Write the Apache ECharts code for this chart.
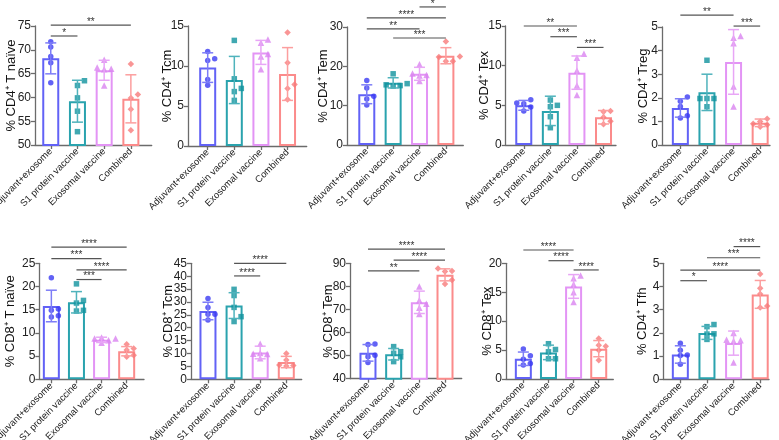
<!DOCTYPE html>
<html>
<head>
<meta charset="utf-8">
<script src="https://cdn.jsdelivr.net/npm/echarts@6/dist/echarts.min.js"></script>
<style>
html,body{margin:0;padding:0;background:#fff}
#main{width:779px;height:440px}
</style>
</head>
<body>
<div id="main"></div>
<script>
var groups=['Adjuvant+exosome','S1 protein vaccine','Exosomal vaccine','Combined'];
var titles=['% CD4\u207A T naïve','% CD4\u207A Tcm','% CD4\u207A Tem','% CD4\u207A Tex','% CD4\u207A Treg',
            '% CD8\u207A T naïve','% CD8\u207A Tcm','% CD8\u207A Tem','% CD8\u207A Tex','% CD4\u207A Tfh'];
var yMin=[50,0,0,0,0, 0,0,40,0,0];
var yMax=[75,15,30,15,5, 25,45,90,20,5];
var yStep=[5,5,10,5,1, 5,5,10,5,1];

var means=[
  [68.2,59.2,65.7,59.7],
  [9.8,8.25,11.7,9.0],
  [12.9,15.8,18.1,22.7],
  [5.0,4.3,9.12,3.5],
  [1.57,2.23,3.52,0.94],
  [15.8,16.6,8.5,6.05],
  [26.5,28.6,10.4,6.7],
  [51.2,50.6,73.1,85.0],
  [3.5,4.6,16.0,5.25],
  [1.07,2.0,1.56,3.66]
];
var sds=[
  [3.25,4.4,2.1,5.05],
  [1.85,2.95,1.5,3.3],
  [2.4,1.3,1.65,2.05],
  [0.62,1.85,2.1,0.85],
  [0.39,0.77,1.37,0.16],
  [3.4,2.3,0.57,1.0],
  [3.4,5.0,2.45,2.2],
  [3.6,2.5,4.85,2.6],
  [1.16,1.25,2.05,1.4],
  [0.375,0.28,0.52,0.6]
];
var points=[
  [[71.7,70.6,68.6,67.3,63.1],[63.5,62.5,59.9,57.1,52.8],[67.9,66.3,66.0,62.5,65.9],[67.0,60.6,59.9,57.5,53.1]],
  [[10.9,11.8,10.7,8.3,7.6],[13.2,8.4,6.8,7.2,5.7],[11.5,13.3,12.9,11.2,9.6],[14.2,10.4,7.7,7.2,5.8]],
  [[16.4,14.5,12.4,11.7,10.2],[18.1,15.1,15.6,15.3,15.0],[20.5,18.2,17.8,16.3,17.7],[26.3,22.5,22.4,21.3,21.3]],
  [[5.3,5.7,5.2,4.8,4.3],[5.0,5.67,4.83,3.57,2.18],[11.5,11.0,9.4,7.5,6.3],[4.2,4.3,3.5,3.0,2.6]],
  [[2.03,1.14,1.85,1.63,1.24],[3.59,1.97,1.97,1.97,1.62],[4.54,4.62,4.31,2.48,1.63],[1.0,1.11,0.9,0.86,0.77]],
  [[21.86,15.14,14.86,13.43,13.71],[20.57,17.0,16.43,14.71,14.86],[8.79,9.0,8.79,7.86,8.43],[7.57,6.29,6.64,5.21,4.86]],
  [[31.3,27.9,25.2,25.2,23.0],[34.9,32.5,27.9,24.3,22.4],[13.8,9.9,10.2,9.8,8.2],[10.0,7.5,5.5,5.4,5.2]],
  [[55.0,54.8,50.2,49.5,47.0],[53.9,51.0,49.5,47.4,51.7],[80.0,74.0,72.5,70.7,68.0],[87.7,86.7,86.4,82.8,81.0]],
  [[5.2,4.0,3.4,2.7,2.4],[6.1,5.1,4.7,3.5,3.5],[17.9,17.4,16.4,15.0,13.3],[6.99,5.66,5.84,4.97,3.24]],
  [[1.55,1.05,1.03,1.25,0.65],[2.36,2.27,1.96,1.72,1.95],[2.0,1.7,1.68,1.65,0.72],[4.54,3.92,3.68,3.1,3.16]]
];
// significance brackets: [from group, to group, level, stars]
var sig=[
  [[0,1,72.9,'*'],[0,3,75.2,'**']],
  [],
  [[2,3,35.1,'*'],[0,3,32.3,'****'],[0,2,29.5,'**'],[1,3,27.2,'***']],
  [[0,2,15.0,'**'],[1,2,13.65,'***'],[2,3,12.3,'***']],
  [[0,2,5.5,'**'],[2,3,5.04,'***']],
  [[0,3,28.5,'****'],[0,2,26.0,'***'],[1,3,23.6,'****'],[1,2,21.5,'***']],
  [[1,3,45.0,'****'],[1,2,40.1,'****']],
  [[0,3,96.1,'****'],[1,3,91.4,'****'],[0,2,86.7,'**']],
  [[0,2,22.3,'****'],[1,2,20.45,'****'],[2,3,18.85,'****']],
  [[2,3,5.72,'****'],[1,3,5.24,'***'],[0,3,4.71,'****'],[0,1,4.25,'*']]
];

// layout: left, right, top, height, xmin, xmax, nameGap
var box=[
  [35,151.7,26,119,-0.59,3.78,17.5],
  [188,306.7,26,120,-0.74,3.72,14],
  [347,463.3,27,118,-0.75,3.66,17],
  [505.7,616,26,119,-0.68,3.47,15],
  [662,770,27,118,-0.69,3.37,12],
  [39.3,144,263.3,116,-0.48,3.69,22],
  [191,301.7,263.3,116,-0.65,3.59,16],
  [350,461.7,263.3,115.4,-0.7,3.65,15],
  [506,613.3,263.3,115.7,-0.69,3.58,12],
  [663.3,769,263.3,116,-0.64,3.33,14]
];

var ptCol=['#3b3bf2','#10929e','#d983f0','#f77b7b'];
var barCol=['#6262f6','#2aa3ae','#e394f5','#fb8b8b'];
var errCol=['#7d7df7','#4fb3bc','#e8a6f6','#fc9e9e'];
var shapes=['circle','rect','triangle','diamond'];
var FONT='Liberation Sans, Arial, sans-serif';

function swarm(vals,ppy,ppx){
  var order=vals.map(function(v,i){return i;}).sort(function(a,b){return vals[a]-vals[b];});
  var placed=[],res=[];
  order.forEach(function(i){
    var y=vals[i]*ppy,offs=[0,7,-7,14,-14],k,o=0;
    for(k=0;k<offs.length;k++){
      var ok=true;
      for(var p=0;p<placed.length;p++){
        var dx=placed[p][0]-offs[k],dy=placed[p][1]-y;
        if(dx*dx+dy*dy<25){ok=false;break;}
      }
      if(ok){o=offs[k];break;}
    }
    placed.push([o,y]);
    res[i]=o/ppx;
  });
  return res;
}

var grids=[],xAxes=[],yAxes=[],series=[];
for(var p=0;p<10;p++){
  var b=box[p];
  grids.push({left:b[0],top:b[2],width:b[1]-b[0],height:b[3],outerBoundsMode:'none',containLabel:false});
  xAxes.push({gridIndex:p,type:'value',min:b[4],max:b[5],
    axisLine:{show:true,onZero:false,lineStyle:{color:'#6b6b6b',width:1.3}},
    axisTick:{show:true,length:4,customValues:[0,1,2,3],lineStyle:{color:'#6b6b6b',width:1.3}},
    axisLabel:{show:true,customValues:[0,1,2,3],rotate:45,margin:5,fontSize:9.5,color:'#222',fontFamily:FONT,
      formatter:function(v){return groups[Math.round(v)];}},
    splitLine:{show:false}});
  yAxes.push({gridIndex:p,type:'value',min:yMin[p],max:yMax[p],interval:yStep[p],
    name:titles[p],nameLocation:'middle',nameGap:b[6],nameMoveOverlap:false,
    nameTextStyle:{fontSize:13,color:'#111',fontFamily:FONT},
    axisLine:{show:true,onZero:false,lineStyle:{color:'#6b6b6b',width:1.3}},
    axisTick:{show:true,length:4,lineStyle:{color:'#6b6b6b',width:1.3}},
    axisLabel:{fontSize:12,color:'#222',margin:4,fontFamily:FONT},
    splitLine:{show:false}});

  var ppy=b[3]/(yMax[p]-yMin[p]);
  var ppx=(b[1]-b[0])/(b[5]-b[4]);

  series.push({type:'bar',xAxisIndex:p,yAxisIndex:p,barWidth:17,z:2,silent:true,
    data:means[p].map(function(m,g){
      return {value:[g,m],itemStyle:{color:'#ffffff',borderColor:barCol[g],borderWidth:2}};
    })});

  var sdata=[];
  points[p].forEach(function(vals,g){
    var off=swarm(vals,ppy,ppx);
    vals.forEach(function(v,i){
      sdata.push({value:[g+off[i],v],symbol:shapes[g],
        symbolSize:g===2?6.5:(g===3?6.5:5.5),itemStyle:{color:ptCol[g]}});
    });
  });
  series.push({type:'scatter',xAxisIndex:p,yAxisIndex:p,z:4,silent:true,data:sdata});

  (function(p){
    series.push({type:'custom',xAxisIndex:p,yAxisIndex:p,z:5,silent:true,clip:false,
      data:means[p].map(function(m,g){return [g,m,sds[p][g]];}),
      renderItem:function(params,api){
        var g=api.value(0),m=api.value(1),s=api.value(2);
        var hi=api.coord([g,m+s]),lo=api.coord([g,m-s]);
        var st={stroke:errCol[g],lineWidth:1.5};
        return {type:'group',children:[
          {type:'line',shape:{x1:hi[0],y1:hi[1],x2:lo[0],y2:lo[1]},style:st},
          {type:'line',shape:{x1:hi[0]-5.5,y1:hi[1],x2:hi[0]+5.5,y2:hi[1]},style:st},
          {type:'line',shape:{x1:lo[0]-5.5,y1:lo[1],x2:lo[0]+5.5,y2:lo[1]},style:st}
        ]};
      }});
    if(sig[p].length){
      series.push({type:'custom',xAxisIndex:p,yAxisIndex:p,z:6,silent:true,clip:false,
        data:sig[p].map(function(s){return [s[0],s[1],s[2]];}),
        renderItem:function(params,api){
          var a=api.coord([api.value(0),api.value(2)]),c=api.coord([api.value(1),api.value(2)]);
          var txt=sig[p][params.dataIndex][3];
          return {type:'group',children:[
            {type:'line',shape:{x1:a[0],y1:a[1],x2:c[0],y2:a[1]},style:{stroke:'#555',lineWidth:1.2}},
            {type:'text',x:(a[0]+c[0])/2,y:a[1]+2,style:{text:txt,fill:'#333',fontSize:10,
              fontFamily:FONT,align:'center',verticalAlign:'bottom'}}
          ]};
        }});
    }
  })(p);
}

var chart=echarts.init(document.getElementById('main'),null,{renderer:'canvas'});
chart.setOption({
  animation:false,
  backgroundColor:'#ffffff',
  grid:grids,
  xAxis:xAxes,
  yAxis:yAxes,
  series:series
});
</script>
</body>
</html>
